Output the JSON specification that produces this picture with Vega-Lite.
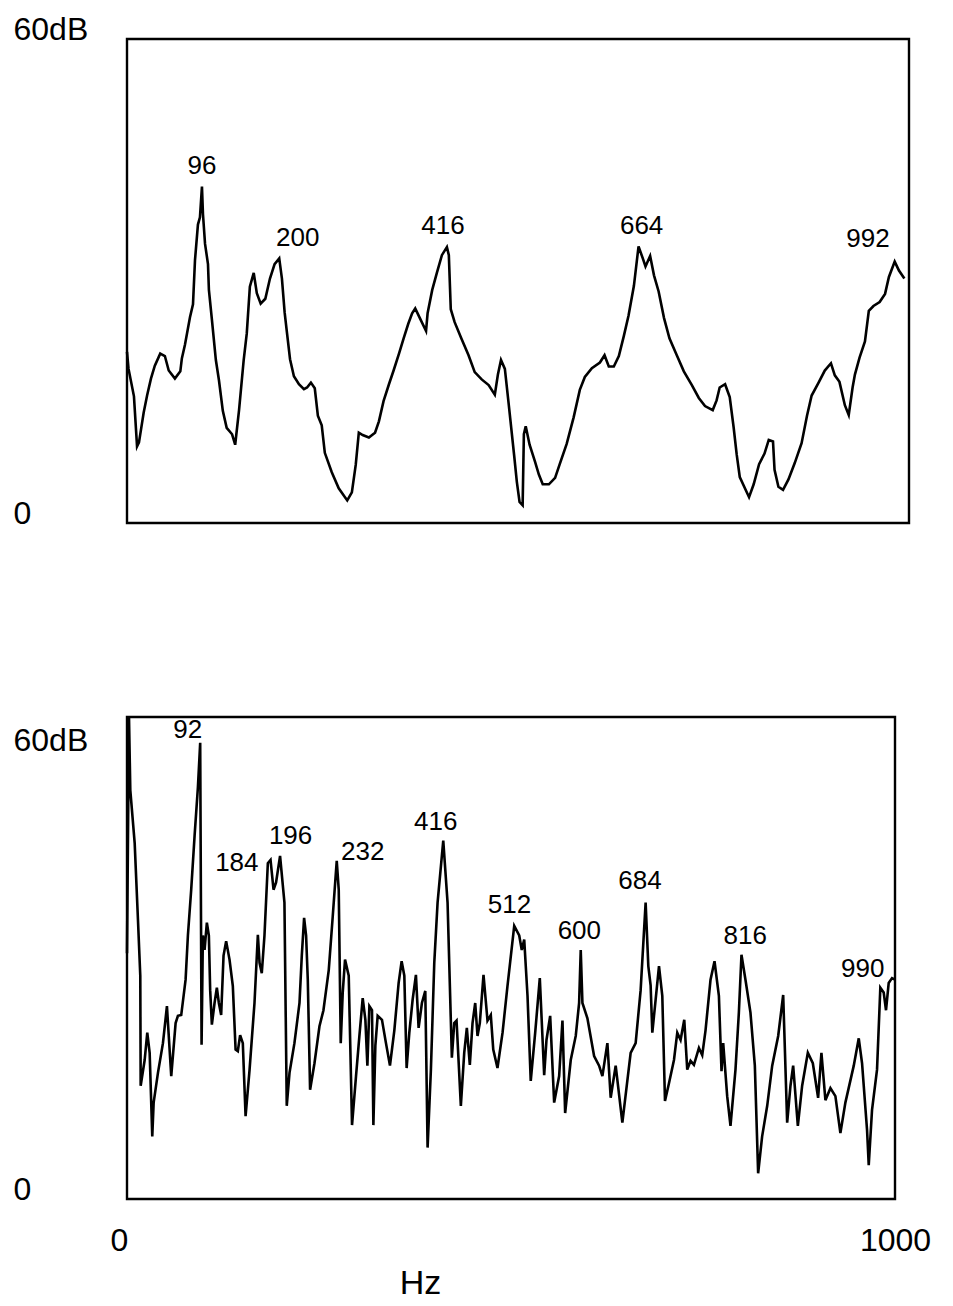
{
  "$schema": "https://vega.github.io/schema/vega-lite/v6.json",
  "background": "white",
  "padding": {"left": 11, "top": 11, "right": 5, "bottom": 5},
  "config": {
    "view": {"stroke": "black", "strokeWidth": 2.4},
    "font": "Liberation Sans",
    "text": {"font": "Liberation Sans", "fontSize": 26, "color": "black"}
  },
  "datasets": {
    "top": [
      {"hz":0,"db":21.2},{"hz":2,"db":19.1},{"hz":9,"db":15.7},{"hz":13,"db":9.5},{"hz":15.5,"db":10.0},{"hz":21.6,"db":13.7},{"hz":26,"db":15.8},{"hz":31,"db":17.9},{"hz":36,"db":19.5},{"hz":43,"db":21.0},{"hz":49,"db":20.7},{"hz":54,"db":18.9},{"hz":62,"db":17.9},{"hz":69,"db":18.8},{"hz":71,"db":20.4},{"hz":75,"db":22.1},{"hz":81.5,"db":25.5},{"hz":85.4,"db":27.1},{"hz":88,"db":32.6},{"hz":91.8,"db":37.0},{"hz":94.4,"db":37.9},{"hz":97,"db":41.7},{"hz":98.3,"db":38.3},{"hz":101,"db":34.6},{"hz":104.8,"db":32.1},{"hz":106,"db":28.9},{"hz":110,"db":25.1},{"hz":115,"db":20.2},{"hz":119,"db":17.7},{"hz":124,"db":13.9},{"hz":129,"db":11.8},{"hz":136,"db":11.0},{"hz":140,"db":9.7},{"hz":145,"db":14.0},{"hz":151,"db":20.2},{"hz":155,"db":23.5},{"hz":159,"db":29.3},{"hz":164,"db":31.0},{"hz":168,"db":28.5},{"hz":173,"db":27.2},{"hz":179,"db":27.8},{"hz":185,"db":30.3},{"hz":191,"db":32.1},{"hz":197,"db":32.8},{"hz":200.5,"db":30.3},{"hz":204,"db":26.1},{"hz":207,"db":23.6},{"hz":211,"db":20.3},{"hz":216,"db":18.2},{"hz":222.5,"db":17.2},{"hz":229,"db":16.6},{"hz":233,"db":16.8},{"hz":238,"db":17.4},{"hz":243,"db":16.7},{"hz":247,"db":13.3},{"hz":252,"db":12.1},{"hz":256,"db":8.7},{"hz":265,"db":6.3},{"hz":274,"db":4.3},{"hz":285,"db":2.8},{"hz":291,"db":3.8},{"hz":296,"db":7.2},{"hz":300,"db":11.2},{"hz":305,"db":10.9},{"hz":313,"db":10.6},{"hz":321,"db":11.2},{"hz":326,"db":12.6},{"hz":332,"db":15.1},{"hz":339,"db":17.2},{"hz":345,"db":18.9},{"hz":352,"db":21.0},{"hz":358,"db":22.9},{"hz":364,"db":24.7},{"hz":369,"db":26.0},{"hz":373,"db":26.6},{"hz":379,"db":25.4},{"hz":387,"db":23.8},{"hz":389,"db":26.0},{"hz":395,"db":28.9},{"hz":401,"db":31.0},{"hz":407.5,"db":33.2},{"hz":414,"db":34.2},{"hz":416.5,"db":33.2},{"hz":419,"db":26.5},{"hz":424,"db":24.9},{"hz":433,"db":22.8},{"hz":442,"db":20.8},{"hz":450,"db":18.7},{"hz":459,"db":17.8},{"hz":468,"db":17.1},{"hz":476,"db":15.9},{"hz":480,"db":18.4},{"hz":484,"db":20.2},{"hz":489,"db":19.1},{"hz":494,"db":14.7},{"hz":501,"db":8.4},{"hz":504.5,"db":5.1},{"hz":508,"db":2.6},{"hz":512,"db":2.2},{"hz":513.6,"db":11.0},{"hz":516,"db":12.0},{"hz":521,"db":9.7},{"hz":528,"db":7.6},{"hz":533,"db":6.0},{"hz":538,"db":4.8},{"hz":546,"db":4.8},{"hz":554,"db":5.6},{"hz":560,"db":7.3},{"hz":569,"db":9.8},{"hz":578,"db":13.1},{"hz":586,"db":16.5},{"hz":592.5,"db":18.1},{"hz":601.6,"db":19.2},{"hz":612,"db":19.9},{"hz":618,"db":20.8},{"hz":623.5,"db":19.4},{"hz":630,"db":19.4},{"hz":636.5,"db":20.7},{"hz":643,"db":23.2},{"hz":649,"db":25.7},{"hz":656,"db":29.4},{"hz":662,"db":34.3},{"hz":667.5,"db":32.8},{"hz":671,"db":31.8},{"hz":677,"db":33.1},{"hz":682,"db":30.7},{"hz":688,"db":28.7},{"hz":695,"db":25.4},{"hz":702,"db":22.9},{"hz":711.5,"db":20.8},{"hz":720.6,"db":18.8},{"hz":731,"db":17.1},{"hz":740,"db":15.5},{"hz":748,"db":14.5},{"hz":758,"db":14.0},{"hz":763,"db":15.2},{"hz":767,"db":16.8},{"hz":774,"db":17.2},{"hz":780,"db":15.6},{"hz":785,"db":11.9},{"hz":789,"db":8.5},{"hz":793,"db":5.7},{"hz":805,"db":3.2},{"hz":811,"db":4.8},{"hz":818,"db":7.3},{"hz":825,"db":8.6},{"hz":830.5,"db":10.3},{"hz":836,"db":10.1},{"hz":838,"db":6.6},{"hz":843,"db":4.5},{"hz":849,"db":4.1},{"hz":856,"db":5.4},{"hz":864,"db":7.4},{"hz":873,"db":9.9},{"hz":880,"db":13.3},{"hz":886,"db":15.8},{"hz":895,"db":17.4},{"hz":903,"db":18.9},{"hz":911,"db":19.8},{"hz":916,"db":18.3},{"hz":922,"db":17.5},{"hz":929,"db":14.6},{"hz":934,"db":13.4},{"hz":939,"db":16.8},{"hz":942,"db":18.4},{"hz":948,"db":20.5},{"hz":955,"db":22.5},{"hz":960,"db":26.3},{"hz":966,"db":26.9},{"hz":974,"db":27.4},{"hz":981,"db":28.4},{"hz":986,"db":30.5},{"hz":993.5,"db":32.4},{"hz":999,"db":31.3},{"hz":1006,"db":30.3}
    ],
    "bottom": [
      {"hz":0,"db":30.6},{"hz":2.6,"db":60},{"hz":4.3,"db":50.9},{"hz":10,"db":44.3},{"hz":14.3,"db":34.7},{"hz":17.3,"db":27.8},{"hz":17.8,"db":14.1},{"hz":23,"db":17.3},{"hz":26.4,"db":20.7},{"hz":29.5,"db":18.2},{"hz":32.9,"db":7.8},{"hz":34.7,"db":12.0},{"hz":40.3,"db":15.7},{"hz":46.8,"db":19.4},{"hz":52,"db":24.0},{"hz":57.6,"db":15.3},{"hz":63.3,"db":21.9},{"hz":66.3,"db":22.8},{"hz":70.6,"db":22.9},{"hz":76.3,"db":27.3},{"hz":79.3,"db":32.8},{"hz":83.6,"db":38.5},{"hz":88,"db":45.2},{"hz":92.3,"db":51.2},{"hz":95.3,"db":56.8},{"hz":97.1,"db":19.2},{"hz":98.8,"db":32.8},{"hz":101,"db":31.0},{"hz":104,"db":34.4},{"hz":106.6,"db":32.8},{"hz":108.3,"db":26.0},{"hz":110.5,"db":21.7},{"hz":114,"db":24.4},{"hz":117,"db":26.3},{"hz":119.6,"db":24.4},{"hz":122.6,"db":22.9},{"hz":125.7,"db":30.3},{"hz":129.1,"db":32.1},{"hz":133.5,"db":29.8},{"hz":137.8,"db":26.5},{"hz":141.4,"db":18.6},{"hz":144.3,"db":18.4},{"hz":147.3,"db":20.4},{"hz":150.8,"db":19.4},{"hz":154.4,"db":10.3},{"hz":159.6,"db":16.1},{"hz":166,"db":24.4},{"hz":170.4,"db":32.9},{"hz":172.6,"db":29.4},{"hz":175.5,"db":28.1},{"hz":179,"db":32.8},{"hz":183.4,"db":41.8},{"hz":186.9,"db":42.2},{"hz":190.8,"db":38.5},{"hz":194.1,"db":39.4},{"hz":199.3,"db":42.7},{"hz":205,"db":36.9},{"hz":208,"db":11.6},{"hz":211.6,"db":15.7},{"hz":218,"db":19.4},{"hz":224.6,"db":24.4},{"hz":227.6,"db":30.3},{"hz":230.6,"db":35.0},{"hz":233.2,"db":32.8},{"hz":235.4,"db":27.3},{"hz":238.4,"db":13.6},{"hz":244.1,"db":16.9},{"hz":250.6,"db":21.5},{"hz":255.8,"db":23.5},{"hz":262.7,"db":28.5},{"hz":267.9,"db":35.2},{"hz":273.1,"db":42.1},{"hz":275.7,"db":38.5},{"hz":278.3,"db":19.4},{"hz":280.9,"db":25.7},{"hz":283.9,"db":29.8},{"hz":288.7,"db":27.8},{"hz":293,"db":9.2},{"hz":298.2,"db":15.3},{"hz":302.6,"db":20.3},{"hz":306.9,"db":25.0},{"hz":310.4,"db":22.3},{"hz":313,"db":16.6},{"hz":315.6,"db":24.0},{"hz":319,"db":23.5},{"hz":320.8,"db":9.2},{"hz":323.4,"db":19.1},{"hz":326.4,"db":22.8},{"hz":332,"db":22.3},{"hz":337.2,"db":19.4},{"hz":342.4,"db":16.6},{"hz":348.1,"db":21.0},{"hz":353.7,"db":26.9},{"hz":357.6,"db":29.6},{"hz":361.1,"db":27.8},{"hz":364.1,"db":16.3},{"hz":367.6,"db":20.7},{"hz":371.9,"db":24.8},{"hz":376.2,"db":27.9},{"hz":379.7,"db":21.3},{"hz":384,"db":24.4},{"hz":388.4,"db":25.9},{"hz":391.4,"db":6.4},{"hz":395.7,"db":16.1},{"hz":400.1,"db":29.4},{"hz":404.4,"db":36.9},{"hz":411.8,"db":44.6},{"hz":417.4,"db":36.9},{"hz":423,"db":17.6},{"hz":426.1,"db":21.9},{"hz":429.1,"db":22.2},{"hz":434.7,"db":11.6},{"hz":439.1,"db":18.2},{"hz":442.5,"db":21.3},{"hz":446.4,"db":16.7},{"hz":449.9,"db":21.9},{"hz":453.4,"db":24.4},{"hz":456.4,"db":20.3},{"hz":459.4,"db":21.9},{"hz":464.2,"db":27.9},{"hz":469.4,"db":22.2},{"hz":473.7,"db":22.9},{"hz":476.9,"db":18.6},{"hz":482.4,"db":16.3},{"hz":489,"db":20.7},{"hz":495.4,"db":26.5},{"hz":504.2,"db":34.0},{"hz":510.7,"db":32.8},{"hz":514,"db":31.0},{"hz":517.2,"db":32.3},{"hz":521.5,"db":25.3},{"hz":525.7,"db":14.7},{"hz":531.5,"db":20.7},{"hz":537.5,"db":27.5},{"hz":543.2,"db":15.4},{"hz":546.2,"db":19.8},{"hz":551,"db":22.8},{"hz":556.2,"db":12.0},{"hz":562.7,"db":15.3},{"hz":567,"db":22.2},{"hz":570.5,"db":10.7},{"hz":577.8,"db":17.3},{"hz":584.3,"db":20.3},{"hz":588.7,"db":24.4},{"hz":590.8,"db":31.0},{"hz":593,"db":24.4},{"hz":599.5,"db":22.5},{"hz":608.2,"db":17.8},{"hz":614.7,"db":16.6},{"hz":619,"db":15.3},{"hz":625.5,"db":19.4},{"hz":629.8,"db":12.6},{"hz":636.3,"db":16.6},{"hz":645,"db":9.5},{"hz":655.8,"db":18.2},{"hz":662.3,"db":19.4},{"hz":668.8,"db":26.0},{"hz":675.3,"db":36.9},{"hz":678.8,"db":29.0},{"hz":681.8,"db":26.6},{"hz":684,"db":20.7},{"hz":688.3,"db":24.8},{"hz":692.7,"db":29.0},{"hz":697,"db":25.3},{"hz":700.5,"db":12.2},{"hz":705.7,"db":14.4},{"hz":712.2,"db":17.3},{"hz":716.5,"db":20.7},{"hz":720.8,"db":19.8},{"hz":725.6,"db":22.3},{"hz":729.5,"db":16.1},{"hz":733.8,"db":17.2},{"hz":738.2,"db":16.7},{"hz":744.7,"db":18.8},{"hz":749,"db":17.9},{"hz":753.3,"db":21.0},{"hz":759.8,"db":27.3},{"hz":765,"db":29.6},{"hz":770.7,"db":25.3},{"hz":774.1,"db":15.9},{"hz":776.3,"db":19.4},{"hz":781.5,"db":12.8},{"hz":785.8,"db":9.1},{"hz":792.3,"db":16.1},{"hz":796.7,"db":23.2},{"hz":800.1,"db":30.4},{"hz":805.3,"db":27.3},{"hz":811.8,"db":23.2},{"hz":817.5,"db":16.6},{"hz":821.8,"db":3.2},{"hz":827,"db":7.8},{"hz":833.6,"db":11.6},{"hz":840.1,"db":16.6},{"hz":847.9,"db":20.3},{"hz":854.4,"db":25.4},{"hz":859.6,"db":9.5},{"hz":863.9,"db":14.1},{"hz":867.4,"db":16.6},{"hz":873.5,"db":9.1},{"hz":879.1,"db":14.1},{"hz":886.5,"db":18.2},{"hz":893,"db":16.9},{"hz":899.9,"db":12.6},{"hz":904.2,"db":18.2},{"hz":909.4,"db":12.3},{"hz":915.9,"db":13.8},{"hz":922.4,"db":12.8},{"hz":928.9,"db":8.2},{"hz":935.4,"db":12.0},{"hz":946.3,"db":16.6},{"hz":952.8,"db":20.0},{"hz":957.1,"db":16.9},{"hz":963.6,"db":8.6},{"hz":965.8,"db":4.2},{"hz":970.1,"db":11.1},{"hz":976.6,"db":16.1},{"hz":980.9,"db":26.3},{"hz":985.3,"db":25.7},{"hz":988.3,"db":23.5},{"hz":991.8,"db":26.9},{"hz":996.1,"db":27.5},{"hz":1000,"db":27.3}
    ],
    "topLabels": [
      {"hz":97,"db":44.2,"label":"96"},{"hz":221,"db":35.3,"label":"200"},{"hz":409,"db":36.8,"label":"416"},{"hz":666,"db":36.8,"label":"664"},{"hz":959,"db":35.2,"label":"992"}
    ],
    "bottomLabels": [
      {"hz":79,"db":58.4,"label":"92"},{"hz":143,"db":41.8,"label":"184"},{"hz":213,"db":45.2,"label":"196"},{"hz":307,"db":43.2,"label":"232"},{"hz":402,"db":46.9,"label":"416"},{"hz":498,"db":36.6,"label":"512"},{"hz":589,"db":33.4,"label":"600"},{"hz":668,"db":39.6,"label":"684"},{"hz":805,"db":32.8,"label":"816"},{"hz":958,"db":28.6,"label":"990"}
    ]
  },
  "vconcat": [
    {
      "width": 782,
      "height": 484,
      "encoding": {
        "x": {"field": "hz", "type": "quantitative", "scale": {"domain": [0, 1012], "nice": false, "zero": false}, "axis": null},
        "y": {"field": "db", "type": "quantitative", "scale": {"domain": [0, 60], "nice": false},
          "axis": {"values": [0, 60], "labelExpr": "datum.value == 60 ? '60dB' : '0'", "title": null, "domain": false, "ticks": false, "tickSize": 0, "grid": false, "labelAlign": "left", "labelPadding": 114, "labelBaseline": "alphabetic", "labelFontSize": 32, "labelFont": "Liberation Sans", "labelColor": "black"}}
      },
      "layer": [
        {"data": {"name": "top"}, "mark": {"type": "line", "color": "black", "strokeWidth": 2.6, "interpolate": "linear"}},
        {"data": {"name": "topLabels"}, "mark": {"type": "text", "align": "center", "baseline": "middle"}, "encoding": {"text": {"field": "label"}}}
      ]
    },
    {
      "width": 768,
      "height": 482,
      "encoding": {
        "x": {"field": "hz", "type": "quantitative", "scale": {"domain": [0, 1000], "nice": false, "zero": false},
          "axis": {"values": [0, 1000], "labelExpr": "datum.value == 0 ? '0' : '1000'", "title": "Hz", "domain": false, "ticks": false, "tickSize": 0, "grid": false, "labelFlush": false, "labelAlign": "center", "labelBaseline": "middle", "labelPadding": 41, "labelOffset": {"condition": {"test": "datum.value == 0", "value": -8}, "value": 0}, "labelFontSize": 32, "labelFont": "Liberation Sans", "labelColor": "black", "titleFont": "Liberation Sans", "titleFontSize": 34, "titleFontWeight": "normal", "titleColor": "black", "titleX": 293, "titleY": 84, "titleBaseline": "middle", "titleAlign": "center"}},
        "y": {"field": "db", "type": "quantitative", "scale": {"domain": [0, 60], "nice": false},
          "axis": {"values": [0, 60], "labelExpr": "datum.value == 60 ? '60dB' : '0'", "title": null, "domain": false, "ticks": false, "tickSize": 0, "grid": false, "labelAlign": "left", "labelPadding": 114, "labelBaseline": "alphabetic", "labelOffset": {"condition": {"test": "datum.value == 60", "value": 33}, "value": 0}, "labelFontSize": 32, "labelFont": "Liberation Sans", "labelColor": "black"}}
      },
      "layer": [
        {"data": {"name": "bottom"}, "mark": {"type": "line", "color": "black", "strokeWidth": 2.6, "interpolate": "linear"}},
        {"data": {"name": "bottomLabels"}, "mark": {"type": "text", "align": "center", "baseline": "middle"}, "encoding": {"text": {"field": "label"}}}
      ]
    }
  ],
  "spacing": 179
}
